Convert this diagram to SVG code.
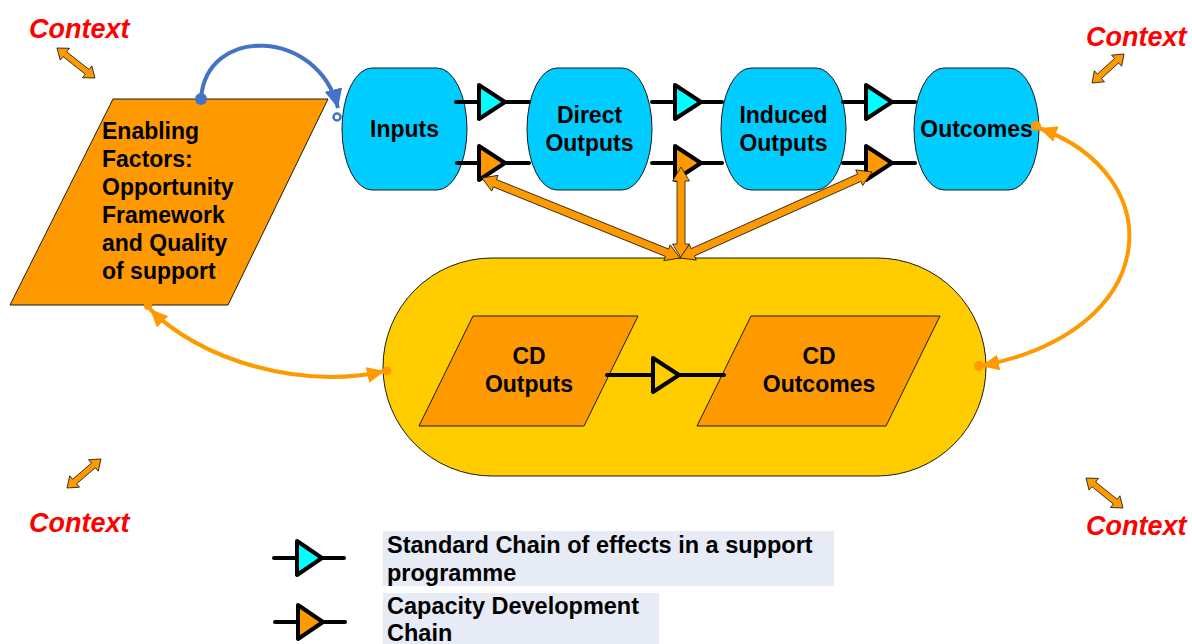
<svg xmlns="http://www.w3.org/2000/svg" width="1192" height="644" viewBox="0 0 1192 644">
<defs>
<style>
.t{font-family:"Liberation Sans",Arial,sans-serif;font-weight:bold;font-size:23px;fill:#000}
.ctx{font-family:"Liberation Sans",Arial,sans-serif;font-weight:bold;font-style:italic;font-size:27px;fill:#FF0000}
.lg{font-family:"Liberation Sans",Arial,sans-serif;font-weight:bold;font-size:23.5px;fill:#000}
.node{fill:#00CCFF;stroke:#1a1a1a;stroke-width:1}
.para{fill:#FF9900;stroke:#1a1a1a;stroke-width:1}
.chain{stroke:#000;stroke-width:4;stroke-linecap:round;fill:none}
.tri{stroke:#000;stroke-width:4;stroke-linejoin:round}
.blk{fill:#FF9900;stroke:#1a1a1a;stroke-width:0.8;stroke-linejoin:miter}
.oc{fill:none;stroke:#FF9900;stroke-width:4}
</style>
<marker id="oa" markerUnits="userSpaceOnUse" markerWidth="22" markerHeight="18" refX="18" refY="8" orient="auto-start-reverse">
<path d="M0,0 L18,8 L0,16 z" fill="#FF9900"/>
</marker>
<marker id="ba" markerUnits="userSpaceOnUse" markerWidth="24" markerHeight="20" refX="19" refY="9" orient="auto">
<path d="M0,0 L19,9 L0,18 z" fill="#4472C4"/>
</marker>
</defs>
<rect width="1192" height="644" fill="#fff"/>

<g id="cd-container">
<rect x="383" y="258" width="603" height="218" rx="109" ry="109" fill="#FFCC00" stroke="#1a1a1a" stroke-width="1"/>
</g>

<g id="enabling">
<polygon class="para" points="113,99 328,99 228,305 10,305"/>
<text class="t" x="102" y="139">Enabling</text>
<text class="t" x="102" y="167">Factors:</text>
<text class="t" x="102" y="195">Opportunity</text>
<text class="t" x="102" y="223">Framework</text>
<text class="t" x="102" y="251">and Quality</text>
<text class="t" x="102" y="279">of support</text>
</g>

<g id="inputs">
<rect class="node" x="342" y="68" width="125" height="122" rx="30" ry="61"/>
<text class="t" x="404.5" y="137" text-anchor="middle">Inputs</text>
</g>
<g id="direct-outputs">
<rect class="node" x="527" y="68" width="125" height="122" rx="30" ry="61"/>
<text class="t" x="589.5" y="123" text-anchor="middle">Direct</text>
<text class="t" x="589.5" y="151" text-anchor="middle">Outputs</text>
</g>
<g id="induced-outputs">
<rect class="node" x="721" y="68" width="125" height="122" rx="30" ry="61"/>
<text class="t" x="783.5" y="123" text-anchor="middle">Induced</text>
<text class="t" x="783.5" y="151" text-anchor="middle">Outputs</text>
</g>
<g id="outcomes">
<rect class="node" x="914" y="68" width="125" height="122" rx="30" ry="61"/>
<text class="t" x="976.5" y="137" text-anchor="middle">Outcomes</text>
</g>

<g id="cd-outputs">
<polygon class="para" points="473,316 638,316 584,426 419,426"/>
<text class="t" x="529" y="364" text-anchor="middle">CD</text>
<text class="t" x="529" y="392" text-anchor="middle">Outputs</text>
</g>
<g id="cd-outcomes">
<polygon class="para" points="751,316 940,316 886,426 697,426"/>
<text class="t" x="819" y="364" text-anchor="middle">CD</text>
<text class="t" x="819" y="392" text-anchor="middle">Outcomes</text>
</g>

<g id="connectors">
<line class="chain" x1="456" y1="102" x2="529" y2="102"/>
<polygon class="tri" fill="#00FFFF" points="479,85 505,102 479,119"/>
<line class="chain" x1="652" y1="102" x2="722" y2="102"/>
<polygon class="tri" fill="#00FFFF" points="675,85 701,102 675,119"/>
<line class="chain" x1="843" y1="102" x2="915" y2="102"/>
<polygon class="tri" fill="#00FFFF" points="866,85 892,102 866,119"/>
<line class="chain" x1="457" y1="163" x2="529" y2="163"/>
<polygon class="tri" fill="#FF9900" points="479,146 505,163 479,180"/>
<line class="chain" x1="652" y1="163" x2="722" y2="163"/>
<polygon class="tri" fill="#FF9900" points="675,146 701,163 675,180"/>
<line class="chain" x1="843" y1="163" x2="915" y2="163"/>
<polygon class="tri" fill="#FF9900" points="866,146 892,163 866,180"/>
<line class="chain" x1="607" y1="375" x2="724" y2="375"/>
<polygon class="tri" fill="#FFCC00" points="653,358 679,375 653,392"/>

<polygon class="blk" transform="translate(680,258) rotate(202)" points="0,0 14,-8.5 14,-4 199.6,-4 199.6,-8.5 213.6,0 199.6,8.5 199.6,4 14,4 14,8.5"/>
<polygon class="blk" transform="translate(681,258) rotate(-90)" points="0,0 14,-8.5 14,-4 77,-4 77,-8.5 91,0 77,8.5 77,4 14,4 14,8.5"/>
<polygon class="blk" transform="translate(680,258) rotate(-24.13)" points="0,0 14,-8.5 14,-4 196.4,-4 196.4,-8.5 210.4,0 196.4,8.5 196.4,4 14,4 14,8.5"/>

<path d="M201,99 C206,25 318,28 338,108" fill="none" stroke="#4472C4" stroke-width="4" marker-end="url(#ba)"/>
<circle cx="201" cy="99" r="6" fill="#4472C4"/>
<circle cx="337" cy="117" r="3.5" fill="#fff" stroke="#4472C4" stroke-width="2.5"/>

<path class="oc" d="M150,309 C200,360 300,390 385,371" marker-start="url(#oa)" marker-end="url(#oa)"/>
<circle cx="148" cy="306" r="4" fill="#FF9900"/>
<circle cx="387" cy="371" r="4.5" fill="#FF9900"/>
<path class="oc" d="M1039,128 C1170,175 1165,330 981,366" marker-start="url(#oa)" marker-end="url(#oa)"/>
<circle cx="1036" cy="126" r="5" fill="#FF9900"/>
<circle cx="979" cy="366" r="5" fill="#FF9900"/>
</g>

<g id="context">
<text class="ctx" x="29" y="38">Context</text>
<text class="ctx" x="1086" y="46">Context</text>
<text class="ctx" x="29" y="532">Context</text>
<text class="ctx" x="1086" y="535">Context</text>
<polygon class="blk" transform="translate(57,48) rotate(38.3)" points="0,0 10,-7.5 10,-3 38.4,-3 38.4,-7.5 48.4,0 38.4,7.5 38.4,3 10,3 10,7.5"/>
<polygon class="blk" transform="translate(1092,83) rotate(-42.2)" points="0,0 10,-7.5 10,-3 33.2,-3 33.2,-7.5 43.2,0 33.2,7.5 33.2,3 10,3 10,7.5"/>
<polygon class="blk" transform="translate(67,488) rotate(-40.5)" points="0,0 10,-7.5 10,-3 34.7,-3 34.7,-7.5 44.7,0 34.7,7.5 34.7,3 10,3 10,7.5"/>
<polygon class="blk" transform="translate(1086,478) rotate(39)" points="0,0 10,-7.5 10,-3 37.6,-3 37.6,-7.5 47.6,0 37.6,7.5 37.6,3 10,3 10,7.5"/>
</g>

<g id="legend">
<rect x="383" y="531" width="451" height="55" fill="#E6EBF5"/>
<rect x="383" y="593" width="276" height="51" fill="#E6EBF5"/>
<line class="chain" x1="274" y1="558" x2="344" y2="558"/>
<polygon class="tri" fill="#00FFFF" points="297,541 322,558 297,575"/>
<line class="chain" x1="275" y1="622" x2="345" y2="622"/>
<polygon class="tri" fill="#FF9900" points="298,605 323,622 298,639"/>
<text class="lg" x="387" y="553">Standard Chain of effects in a support</text>
<text class="lg" x="387" y="581">programme</text>
<text class="lg" x="387" y="614">Capacity Development</text>
<text class="lg" x="387" y="641">Chain</text>
</g>
</svg>
